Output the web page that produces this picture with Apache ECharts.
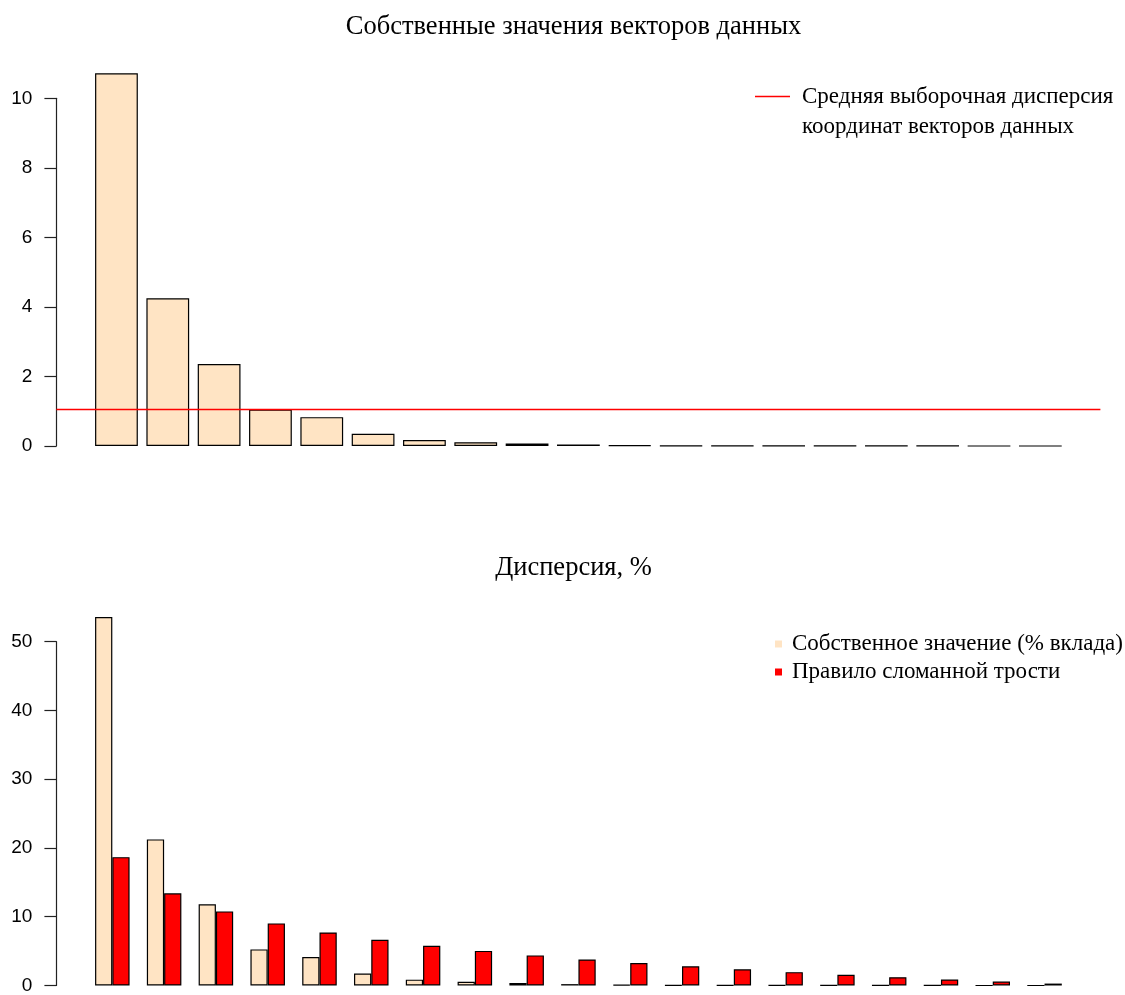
<!DOCTYPE html>
<html>
<head>
<meta charset="utf-8">
<script src="https://cdn.jsdelivr.net/npm/echarts@6/dist/echarts.min.js"></script>
<style>
  html, body { margin: 0; padding: 0; background: #fff; }
  #chart { width: 1125px; height: 995px; }
</style>
</head>
<body>
<div id="chart"></div>
<script>
// ---- data ----
var components = ['1','2','3','4','5','6','7','8','9','10','11','12','13','14','15','16','17','18','19'];
var eigenValues = [10.72, 4.25, 2.36, 1.05, 0.83, 0.35, 0.17, 0.11, 0.07, 0.04, 0.02, 0.01, 0.01, 0.005, 0.005, 0.003, 0.002, 0.001, 0.001];
var meanVariance = 1.05;
var eigenPercent = [53.6, 21.25, 11.8, 5.25, 4.15, 1.75, 0.85, 0.55, 0.35, 0.2, 0.1, 0.05, 0.04, 0.03, 0.02, 0.015, 0.01, 0.005, 0.005];
var brokenStick = [18.67, 13.41, 10.78, 9.03, 7.71, 6.66, 5.78, 5.03, 4.38, 3.79, 3.27, 2.79, 2.35, 1.94, 1.56, 1.21, 0.88, 0.57, 0.28];
var topTicks = [0, 10, 2];      // min, max, interval
var bottomTicks = [0, 50, 10];
var titleTop = 'Собственные значения векторов данных';
var titleBottom = 'Дисперсия, %';
var legendLine1 = 'Средняя выборочная дисперсия';
var legendLine2 = 'координат векторов данных';
var legendEigen = 'Собственное значение (% вклада)';
var legendStick = 'Правило сломанной трости';

// ---- styles ----
var serif = '"Liberation Serif", "Times New Roman", serif';
var sans = '"Liberation Sans", Arial, sans-serif';
var bisque = '#FFE4C4';
var red = '#FF0000';

// top panel x range (R barplot: width 1, space 0.2, 4% padding)
var topXMin = -0.704, topXMax = 23.704;
var topData = eigenValues.map(function (v, i) { return [0.7 + 1.2 * i, v]; });
var meanLineData = [[topXMin, meanVariance], [topXMax, meanVariance]];

function yAxisCommon(t, offset) {
  return {
    type: 'value', min: t[0], max: t[1], interval: t[2], offset: offset,
    axisLine: { show: true, onZero: false, lineStyle: { color: '#222', width: 1.2 } },
    axisTick: { show: true, inside: false, length: 12, lineStyle: { color: '#222', width: 1.2 } },
    axisLabel: { margin: 24, color: '#000', fontFamily: sans, fontSize: 19 },
    splitLine: { show: false }
  };
}

var chart = echarts.init(document.getElementById('chart'), null, { renderer: 'canvas' });
chart.setOption({
  animation: false,
  backgroundColor: '#fff',
  title: [
    { text: titleTop, left: 573.5, top: 14, textAlign: 'center', padding: 0,
      textStyle: { fontFamily: serif, fontSize: 26.5, fontWeight: 'normal', color: '#000' } },
    { text: titleBottom, left: 573.5, top: 555, textAlign: 'center', padding: 0,
      textStyle: { fontFamily: serif, fontSize: 26.5, fontWeight: 'normal', color: '#000' } },
    { text: legendLine2, left: 802, top: 115, padding: 0,
      textStyle: { fontFamily: serif, fontSize: 23, fontWeight: 'normal', color: '#000' } }
  ],
  legend: [
    { data: [legendLine1], left: 755, top: 85, padding: 0,
      icon: 'rect', itemWidth: 35, itemHeight: 1.5,
      itemStyle: { color: red, borderWidth: 0 },
      textStyle: { fontFamily: serif, fontSize: 23, color: '#000', padding: [0, 0, 0, 7] } },
    { data: [legendEigen, legendStick], left: 775, top: 632, orient: 'vertical', padding: 0,
      icon: 'rect', itemWidth: 7, itemHeight: 7, itemGap: 4,
      itemStyle: { borderWidth: 0 },
      textStyle: { fontFamily: serif, fontSize: 23, lineHeight: 24, color: '#000', padding: [0, 0, 0, 5] } }
  ],
  grid: [
    { left: 56.4, width: 1044, top: 98.3, height: 347.7 },
    { left: 86.43, width: 984, top: 641.7, height: 347.3 }
  ],
  xAxis: [
    { gridIndex: 0, type: 'value', min: topXMin, max: topXMax, show: false },
    { gridIndex: 1, type: 'category', data: components, show: false, boundaryGap: true }
  ],
  yAxis: [
    Object.assign({ gridIndex: 0 }, yAxisCommon(topTicks, 0)),
    Object.assign({ gridIndex: 1 }, yAxisCommon(bottomTicks, 30.03))
  ],
  series: [
    { type: 'bar', xAxisIndex: 0, yAxisIndex: 0, data: topData, barWidth: 42.77, clip: false,
      itemStyle: { color: bisque, borderColor: '#000', borderWidth: 1.2 } },
    { name: legendLine1, type: 'line', xAxisIndex: 0, yAxisIndex: 0, data: meanLineData,
      symbol: 'none', silent: true, color: red, z: 5,
      itemStyle: { color: red }, lineStyle: { color: red, width: 1.7 } },
    { name: legendEigen, type: 'bar', xAxisIndex: 1, yAxisIndex: 1, data: eigenPercent,
      barWidth: 17.26, barGap: '0%', clip: false, color: bisque,
      itemStyle: { color: bisque, borderColor: '#000', borderWidth: 1.2 } },
    { name: legendStick, type: 'bar', xAxisIndex: 1, yAxisIndex: 1, data: brokenStick,
      barWidth: 17.26, barGap: '0%', clip: false, color: red,
      itemStyle: { color: red, borderColor: '#000', borderWidth: 1.2 } }
  ]
});
</script>
</body>
</html>
